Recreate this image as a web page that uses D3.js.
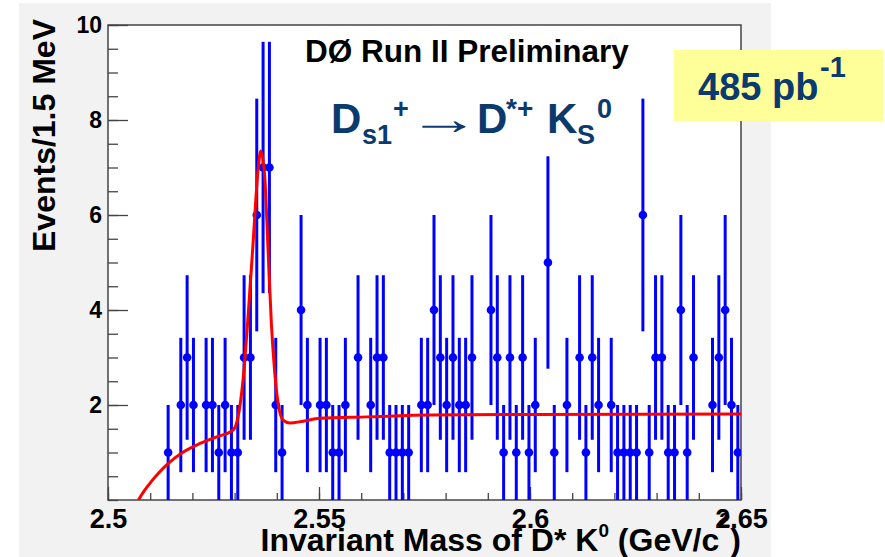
<!DOCTYPE html>
<html><head><meta charset="utf-8">
<script src="https://cdn.jsdelivr.net/npm/d3@7"></script>
<style>body{margin:0;background:#fff}svg{display:block}text{font-family:"Liberation Sans",Arial,Helvetica,sans-serif;font-weight:bold}</style>
</head><body><svg id="c" width="885" height="557"></svg>
<script>
// ---- data ----
const massRange = [2.5, 2.65];
const binWidth = 0.0015; // 1.5 MeV bins
const counts = [
 0,0,0,0,0,0,0,0,0,1,
 0,2,3,2,0,2,2,1,2,1,
 1,3,3,6,7,7,2,1,0,0,
 4,2,0,2,2,1,1,2,0,3,
 0,2,3,3,1,1,1,1,0,2,
 2,4,3,2,3,2,2,3,0,0,
 4,3,1,3,1,3,1,2,0,5,
 1,0,2,0,3,1,3,2,0,2,
 1,1,1,1,6,1,3,3,1,1,
 4,1,3,0,0,2,3,4,2,1
];
const fitMass = [2.5072,2.5085,2.5100,2.5120,2.5143,2.51785,2.52181,2.52577,2.52963,2.53082,2.532,2.53319,2.53437,2.53556,2.5362,2.53715,2.53793,2.53871,2.53952,2.5403,2.54149,2.54308,2.54623,2.55019,2.56133,2.57634,2.60004,2.65];
const fitValue = [0,0.18,0.36,0.57,0.77,1.01,1.19,1.33,1.47,1.75,2.53,3.86,5.4,6.95,7.35,6.8,5.26,3.72,2.67,2.04,1.68,1.62,1.66,1.72,1.75,1.79,1.80,1.81];
const xTickValues = [2.5, 2.55, 2.6, 2.65];
const xTickLabels = ["2.5", "2.55", "2.6", "2.65"];
const yTickValues = [2, 4, 6, 8, 10];
const yTickLabels = ["2", "4", "6", "8", "10"];

// ---- drawing ----
const svg = d3.select("#c");
const F = {l:108, r:741, t:25, b:500};
const x = d3.scaleLinear().domain(massRange).range([F.l, F.r]);
const y = d3.scaleLinear().domain([0, 10]).range([F.b, F.t]);
const navy = "#0a3a6e", frameCol = "#444";

svg.append("rect").attr("x",19).attr("y",3).attr("width",752).attr("height",554).attr("fill","#f2f2f2");
svg.append("rect").attr("x",F.l).attr("y",F.t).attr("width",F.r-F.l).attr("height",F.b-F.t).attr("fill","#fff");

svg.append("clipPath").attr("id","clip").append("rect")
  .attr("x",F.l).attr("y",F.t).attr("width",F.r-F.l).attr("height",F.b-F.t);

// minor ticks
const xMinor = d3.range(0,16).map(i => 2.5 + i*0.01);
svg.append("g").attr("transform",`translate(0,${F.b})`)
  .call(d3.axisBottom(x).tickValues(xMinor).tickSize(-7).tickFormat(""))
  .call(g => g.select(".domain").remove())
  .call(g => g.selectAll("line").attr("stroke",frameCol).attr("stroke-width",1.3));
const yMinor = d3.range(0,21).map(i => i*0.5);
svg.append("g").attr("transform",`translate(${F.l},0)`)
  .call(d3.axisLeft(y).tickValues(yMinor).tickSize(-10).tickFormat(""))
  .call(g => g.select(".domain").remove())
  .call(g => g.selectAll("line").attr("stroke",frameCol).attr("stroke-width",1.3));

// major ticks + labels
svg.append("g").attr("transform",`translate(0,${F.b})`)
  .call(d3.axisBottom(x).tickValues(xTickValues).tickSize(-13).tickPadding(9)
        .tickFormat((d,i) => xTickLabels[i]))
  .call(g => g.select(".domain").remove())
  .call(g => g.selectAll("line").attr("stroke",frameCol).attr("stroke-width",1.3))
  .call(g => g.selectAll("text").attr("fill","#000").attr("font-size",27)
        .attr("font-family","Liberation Sans, Arial, sans-serif").attr("font-weight","bold").attr("dy","0.72em"));
svg.append("g").attr("transform",`translate(${F.l},0)`)
  .call(d3.axisLeft(y).tickValues(yTickValues).tickSize(-20).tickPadding(6)
        .tickFormat((d,i) => yTickLabels[i]))
  .call(g => g.select(".domain").remove())
  .call(g => g.selectAll("line").attr("stroke",frameCol).attr("stroke-width",1.3))
  .call(g => g.selectAll("text").attr("fill","#000").attr("font-size",23)
        .attr("font-family","Liberation Sans, Arial, sans-serif").attr("font-weight","bold"));

// frame
svg.append("rect").attr("x",F.l).attr("y",F.t).attr("width",F.r-F.l).attr("height",F.b-F.t)
  .attr("fill","none").attr("stroke",frameCol).attr("stroke-width",1.5);

// data
const pts = counts.map((n,i) => ({m: massRange[0] + (i+0.5)*binWidth, n})).filter(d => d.n > 0);
const gd = svg.append("g").attr("clip-path","url(#clip)");
gd.selectAll("line.err").data(pts).join("line").attr("class","err")
  .attr("x1", d => x(d.m)).attr("x2", d => x(d.m))
  .attr("y1", d => y(Math.max(0, d.n - Math.sqrt(d.n))))
  .attr("y2", d => y(d.n + Math.sqrt(d.n)))
  .attr("stroke","#0000ff").attr("stroke-width",3);
gd.selectAll("circle").data(pts).join("circle")
  .attr("cx", d => x(d.m)).attr("cy", d => y(d.n)).attr("r",4.3).attr("fill","#0000ff");

// fit
const fit = fitMass.map((m,i) => [m, fitValue[i]]);
gd.append("path").datum(fit)
  .attr("d", d3.line().x(d => x(d[0])).y(d => y(d[1])).curve(d3.curveMonotoneX))
  .attr("fill","none").attr("stroke","#ff0000").attr("stroke-width",3);

// titles
svg.append("text").attr("x",305).attr("y",62).attr("font-size",31.5).attr("fill","#000").text("DØ Run II Preliminary");

const t = (tx,ty,fs,txt,fam,wt) => svg.append("text").attr("x",tx).attr("y",ty).attr("font-size",fs)
   .attr("fill",navy).attr("font-family",fam||null).attr("font-weight",wt||null).text(txt);
t(331,133,42,"D");
t(362,144,27,"s1");
t(393,118,27,"+");
// arrow: stretched so its ink spans ~423..463, centred at y≈123
const arrowG = svg.append("g");
const arrow = arrowG.append("text").attr("x",0).attr("y",0).attr("font-size",36)
  .attr("fill",navy).attr("font-family","DejaVu Sans").attr("font-weight","normal").text("→");
{
  const bb = arrow.node().getBBox();
  const ink = 0.55;                      // visible part of the advance box
  const sx = 40 / (Math.max(1, bb.width) * ink);
  const sy = 1.25;
  const inkStart = bb.x + bb.width * (1 - ink) / 2;
  const cy = bb.y + bb.height / 2;
  arrowG.attr("transform",`translate(${424 - inkStart*sx},${118 - cy*sy}) scale(${sx},${sy})`);
}
t(477,133,42,"D");
t(506,118,28,"*+");
t(547,133,42,"K");
t(577,144,27,"S");
t(597,118,27,"0");

// luminosity box
svg.append("rect").attr("x",674).attr("y",50).attr("width",209).attr("height",71).attr("fill","#ffff99");
t(698,100,38,"485 pb");
t(820,77,29,"-1");

// axis titles
const xt = svg.append("text").attr("x",F.r).attr("y",551).attr("text-anchor","end")
  .attr("font-size",32).attr("fill","#000");
xt.append("tspan").text("Invariant Mass of D* K");
xt.append("tspan").attr("font-size",19).attr("dy",-14).text("0");
xt.append("tspan").attr("dy",14).text(" (GeV/c");
xt.append("tspan").attr("font-size",20).attr("dy",-24).text("2");
xt.append("tspan").attr("dy",24).text(")");

svg.append("text").attr("transform","translate(55,19) rotate(-90)").attr("text-anchor","end")
  .attr("font-size",32).attr("fill","#000").text("Events/1.5 MeV");
</script></body></html>
